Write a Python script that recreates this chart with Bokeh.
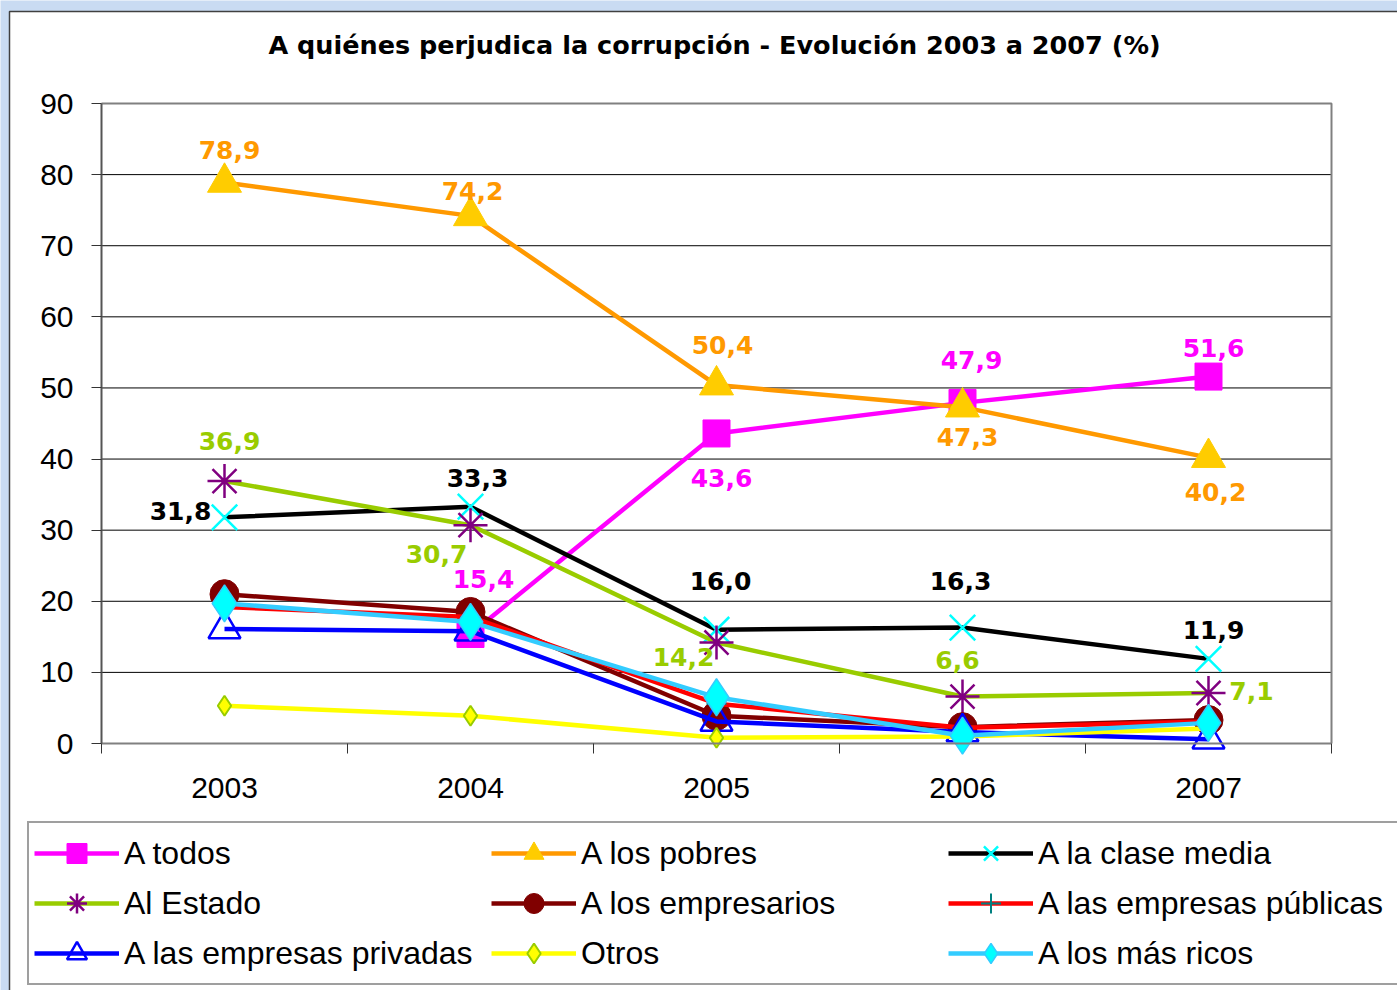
import math
from bokeh.plotting import figure
from bokeh.models import Legend, LegendItem, FixedTicker, ColumnDataSource, Range1d, Label
from bokeh.core.properties import value
from bokeh.embed import file_html
from bokeh.resources import INLINE

nan = float("nan")

# ---------------- data ----------------
title_text = "A quiénes perjudica la corrupción - Evolución 2003 a 2007 (%)"
years = [2003, 2004, 2005, 2006, 2007]
y_ticks = [0, 10, 20, 30, 40, 50, 60, 70, 80, 90]

series_names = [
    "A todos", "A los pobres", "A la clase media",
    "Al Estado", "A los empresarios", "A las empresas públicas",
    "A las empresas privadas", "Otros", "A los más ricos",
]
a_todos = [nan, 15.4, 43.6, 47.9, 51.6]
a_los_pobres = [78.9, 74.2, 50.4, 47.3, 40.2]
a_la_clase_media = [31.8, 33.3, 16.0, 16.3, 11.9]
al_estado = [36.9, 30.7, 14.2, 6.6, 7.1]
a_los_empresarios = [21.0, 18.5, 3.9, 2.3, 3.3]
a_las_empresas_publicas = [19.2, 17.8, 5.6, 2.2, 3.1]
a_las_empresas_privadas = [16.1, 15.8, 3.1, 1.6, 0.6]
otros = [5.3, 3.9, 0.8, 1.0, 2.1]
a_los_mas_ricos = [19.7, 17.1, 6.5, 1.1, 2.9]

series_values = [
    a_todos, a_los_pobres, a_la_clase_media,
    al_estado, a_los_empresarios, a_las_empresas_publicas,
    a_las_empresas_privadas, otros, a_los_mas_ricos,
]

# ---------------- styles ----------------
styles = [
    dict(line="#FF00FF", marker="square", size=27, fill="#FF00FF", mline="#FF00FF", mlw=1),
    dict(line="#FF9900", marker="triangle", size=34, fill="#FFCC00", mline="#FFCC00", mlw=1),
    dict(line="#000000", marker="x", size=36, fill=None, mline="#00FFFF", mlw=2.5),
    dict(line="#99CC00", marker="asterisk", size=34, fill=None, mline="#800080", mlw=2.5),
    dict(line="#800000", marker="circle", size=29, fill="#800000", mline="#800000", mlw=1),
    dict(line="#FF0000", marker="cross", size=20, fill=None, mline="#008080", mlw=2),
    dict(line="#0000FF", marker="triangle", size=32, fill=None, mline="#0000FF", mlw=2.5),
    dict(line="#FFFF00", marker="diamond", size=20, fill="#FFFF00", mline="#99CC00", mlw=2),
    dict(line="#33CCFF", marker="diamond", size=37, fill="#00FFFF", mline="#33CCFF", mlw=1.5),
]

# data-label placement (pixel offsets from the point), by series index
label_series = {
    0: dict(color="#FF00FF", dx=[0, 13, 5, 9, 5], dy=[0, -55, 45, -43, -29]),
    1: dict(color="#FF9900", dx=[5, 2, 6, 5, 7], dy=[-32, -25, -40, 30, 34]),
    2: dict(color="#000000", dx=[-44, 7, 4, -2, 5], dy=[-6, -29, -49, -47, -29]),
    3: dict(color="#99CC00", dx=[5, -34, -33, -5, 43], dy=[-40, 29, 14, -37, -2]),
}

# ---------------- layout (pixels) ----------------
W, H = 1397, 990
PLOT_L, PLOT_R = 101, 1331      # pixel x of the plot-area left/right edges
PLOT_B, PLOT_T = 743, 103       # pixel y of value 0 / value 90
x_lo, x_hi = years[0] - 0.5, years[-1] + 0.5
y_lo, y_hi = y_ticks[0], y_ticks[-1]
kx = (PLOT_R - PLOT_L) / (x_hi - x_lo)
ky = (PLOT_B - PLOT_T) / (y_hi - y_lo)


def px2x(px):
    return x_lo + (px - PLOT_L) / kx


def px2y(py):
    return y_lo + (PLOT_B - py) / ky


p = figure(
    width=W, height=H, title=None,
    x_range=Range1d(px2x(0), px2x(W)), y_range=Range1d(px2y(H), px2y(0)),
    output_backend="svg", toolbar_location=None,
    min_border=0, min_border_left=0, min_border_right=0,
    min_border_top=0, min_border_bottom=0,
    background_fill_color="#C9DBF2", border_fill_color="#C9DBF2",
)
p.outline_line_color = None
p.xgrid.visible = False
p.ygrid.visible = False

# white chart panel with thin dark border (light-blue page shows at top/left)
p.quad(left=px2x(9), right=px2x(W + 40), top=px2y(11), bottom=px2y(H + 40),
       fill_color="white", line_color="#404040", line_width=1.5)

# horizontal gridlines
grid_vals = y_ticks[1:-1]
p.segment(x0=[x_lo] * len(grid_vals), x1=[x_hi] * len(grid_vals), y0=grid_vals, y1=grid_vals,
          line_color="black", line_width=1)
# top and right edges of the plot area
p.line(x=[x_lo, x_hi, x_hi], y=[y_hi, y_hi, y_lo], line_color="#808080", line_width=2)

# title
p.add_layout(Label(x=px2x(714), y=px2y(44), text=title_text, text_align="center",
                   text_baseline="alphabetic", text_font="DejaVu Sans",
                   text_font_style="bold", text_font_size="25.5px", text_color="black"))

# x axis (fixed inside the full-canvas frame)
xa = p.xaxis[0]
xa.fixed_location = y_lo
xa.bounds = (x_lo, x_hi)
xa.ticker = FixedTicker(ticks=years, minor_ticks=[y - 0.5 for y in years] + [years[-1] + 0.5])
xa.major_tick_line_color = None
xa.minor_tick_line_color = "#333333"
xa.minor_tick_out = 10
xa.minor_tick_in = 0
xa.axis_line_color = "#808080"
xa.axis_line_width = 2
xa.major_label_text_font = "Liberation Sans"
xa.major_label_text_font_size = "30px"
xa.major_label_text_color = "black"
xa.major_label_standoff = 24

# y axis
ya = p.yaxis[0]
ya.fixed_location = x_lo
ya.bounds = (y_lo, y_hi)
ya.ticker = FixedTicker(ticks=y_ticks)
ya.minor_tick_line_color = None
ya.major_tick_line_color = "#333333"
ya.major_tick_out = 10
ya.major_tick_in = 0
ya.axis_line_color = "#555555"
ya.axis_line_width = 2
ya.major_label_text_font = "Liberation Sans"
ya.major_label_text_font_size = "30px"
ya.major_label_text_color = "black"
ya.major_label_standoff = 18

items = []
for name, vals, st in zip(series_names, series_values, styles):
    src = ColumnDataSource(dict(x=years, y=vals))
    ln = p.line("x", "y", source=src, line_color=st["line"], line_width=4.5)
    sc = p.scatter("x", "y", source=src, marker=st["marker"], size=st["size"],
                   fill_color=st["fill"], line_color=st["mline"], line_width=st["mlw"])
    items.append(LegendItem(label=name, renderers=[ln, sc]))

for idx, lab in label_series.items():
    vals = series_values[idx]
    xs, ys, txt, dxs, dys = [], [], [], [], []
    for i, v in enumerate(vals):
        if v is None or math.isnan(v):
            continue
        xs.append(years[i]); ys.append(v)
        txt.append(f"{v:.1f}".replace(".", ","))
        dxs.append(lab["dx"][i]); dys.append(lab["dy"][i])
    src = ColumnDataSource(dict(x=xs, y=ys, t=txt, dx=dxs, dy=dys))
    p.text("x", "y", text="t", source=src, x_offset="dx", y_offset="dy",
           text_align="center", text_baseline="middle",
           text_font=value("DejaVu Sans"), text_font_style="bold",
           text_font_size="25px", text_color=lab["color"])

legend = Legend(
    items=items, orientation="horizontal", ncols=3,
    location=(27, 5), margin=0, padding=5, spacing=-2,
    glyph_width=85, glyph_height=50, label_height=50, label_width=367,
    label_standoff=5,
    label_text_font="Liberation Sans", label_text_font_size="32px",
    label_text_color="black", label_text_baseline="middle",
    border_line_color="#404040", border_line_width=2,
    background_fill_color="white", background_fill_alpha=1.0,
)
p.add_layout(legend, "center")

open("out.html", "w").write(file_html(p, INLINE))
